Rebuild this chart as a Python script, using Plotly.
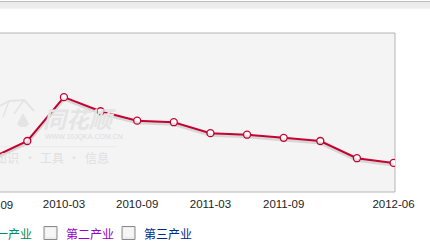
import plotly.graph_objects as go

quarters = ["2009-09", "2009-12", "2010-03", "2010-06", "2010-09", "2010-12",
            "2011-03", "2011-06", "2011-09", "2011-12", "2012-03", "2012-06"]
values = [8.1, 9.2, 12.0, 11.1, 10.5, 10.4, 9.7, 9.6, 9.4, 9.2, 8.1, 7.8]
tick_labels = ["2010-03", "2010-09", "2011-03", "2011-09", "2012-06"]
hidden_left_label = "2009-09"
legend_names = ["第一产业", "第二产业", "第三产业"]
legend_colors = ["#008a5e", "#9900cc", "#002a8a"]

YR = [5.94, 16.1]
shadow_shift = 0.13

W, H = 430, 245
ml, mr, mt, mb = 0, 35, 33, 53
PW, PH = W - ml - mr, H - mt - mb


def px(x):
    return (x - ml) / PW


def py(y):
    return (H - mb - y) / PH


def path(points, close=False):
    s = "M " + " L ".join(f"{px(x):.5f} {py(y):.5f}" for x, y in points)
    return s + (" Z" if close else "")


fig = go.Figure()
# shadow
fig.add_trace(go.Scatter(x=quarters, y=values, mode="lines", yaxis="y2",
                         line=dict(color="rgba(0,0,0,0.12)", width=3),
                         hoverinfo="skip", showlegend=False))
fig.add_trace(go.Scatter(x=quarters, y=values, mode="lines+markers",
                         line=dict(color="#cc0033", width=2),
                         marker=dict(symbol="circle", size=7, color="white",
                                     line=dict(color="#cc0033", width=1.3)),
                         showlegend=False))

wm = "#e4e4e4"
shapes = [
    # top grey bar
    dict(type="rect", xref="paper", yref="paper", x0=-0.1, x1=1.2,
         y0=py(8.7), y1=py(2), fillcolor="#ececec", line=dict(width=0), layer="below"),
    dict(type="line", xref="paper", yref="paper", x0=-0.1, x1=1.2,
         y0=py(1.5), y1=py(1.5), line=dict(color="#bcbcbc", width=1.2)),
    # plot frame
    dict(type="rect", xref="paper", yref="paper", x0=-0.1, x1=1, y0=0, y1=1,
         fillcolor="#f4f4f4", line=dict(color="#b4b4b4", width=1), layer="below"),
    # watermark divider
    dict(type="line", xref="paper", yref="paper", x0=0, x1=px(116),
         y0=py(146.7), y1=py(146.7), line=dict(color="#ebebeb", width=1), layer="below"),
    # watermark logo (fan + spade)
    dict(type="path", xref="paper", yref="paper",
         path=path([(0, 106), (9, 101), (24, 100), (34, 111)]),
         line=dict(color=wm, width=2), layer="below"),
    dict(type="path", xref="paper", yref="paper",
         path=path([(9, 101), (3, 117)]), line=dict(color=wm, width=1.5), layer="below"),
    dict(type="path", xref="paper", yref="paper",
         path=path([(24, 100), (14, 114)]), line=dict(color=wm, width=1.5), layer="below"),
    dict(type="path", xref="paper", yref="paper",
         path=path([(23, 113), (17, 124), (20, 127), (26, 127), (29, 124)], close=True),
         fillcolor=wm, line=dict(width=0), layer="below"),
]
# checkboxes
for x0 in (44, 122):
    shapes.append(dict(type="rect", xref="paper", yref="paper",
                       x0=px(x0), x1=px(x0 + 13), y0=py(239.5), y1=py(226.5),
                       fillcolor="#ececec", line=dict(color="#8a8a8a", width=1)))
    shapes.append(dict(type="rect", xref="paper", yref="paper",
                       x0=px(x0 + 1.5), x1=px(x0 + 11.5), y0=py(237), y1=py(228),
                       fillcolor="#f6f6f6", line=dict(width=0)))

cjk = "Noto Sans CJK SC"
annotations = [
    dict(text=hidden_left_label, xref="paper", yref="paper", x=px(-8.5), y=py(205),
         showarrow=False, xanchor="center", yanchor="middle",
         font=dict(family="Liberation Sans, Arial", size=11.5, color="#222")),
    # watermark
    dict(text="<b><i>同花顺</i></b>", xref="paper", yref="paper", x=px(41), y=py(117.5),
         showarrow=False, xanchor="left", yanchor="middle",
         font=dict(family=cjk, size=23, color=wm)),
    dict(text="WWW.10JQKA.COM.CN", xref="paper", yref="paper", x=px(43), y=py(137),
         showarrow=False, xanchor="left", yanchor="middle",
         font=dict(family="Liberation Sans, Arial", size=7, color="#dcdcdc")),
]
for txt, cx in (("知识", 7), ("·", 29.5), ("工具", 51.5), ("·", 74), ("信息", 96.5)):
    annotations.append(dict(text=txt, xref="paper", yref="paper", x=px(cx), y=py(157.3),
                            showarrow=False, xanchor="center", yanchor="middle",
                            font=dict(family=cjk, size=12, color="#e0e0e0")))
annotations += [
    # legend labels
    dict(text=legend_names[0], xref="paper", yref="paper", x=px(34), y=py(233),
         showarrow=False, xanchor="right", yanchor="middle",
         font=dict(family=cjk, size=12, color=legend_colors[0])),
    dict(text=legend_names[1], xref="paper", yref="paper", x=px(64), y=py(233),
         showarrow=False, xanchor="left", yanchor="middle",
         font=dict(family=cjk, size=12, color=legend_colors[1])),
    dict(text=legend_names[2], xref="paper", yref="paper", x=px(142), y=py(233),
         showarrow=False, xanchor="left", yanchor="middle",
         font=dict(family=cjk, size=12, color=legend_colors[2])),
]

fig.update_layout(
    width=W, height=H,
    margin=dict(l=ml, r=mr, t=mt, b=mb, pad=0),
    paper_bgcolor="white", plot_bgcolor="rgba(0,0,0,0)",
    showlegend=False,
    xaxis=dict(type="category", categoryorder="array", categoryarray=quarters,
               range=[0.254, 11.04], tickvals=tick_labels, ticktext=tick_labels,
               showgrid=False, zeroline=False, showline=False,
               ticks="outside", ticklen=1, tickcolor="rgba(0,0,0,0)",
               tickfont=dict(family="Liberation Sans, Arial", size=11.5, color="#222")),
    yaxis=dict(range=YR, showgrid=False, zeroline=False, showticklabels=False,
               showline=False),
    yaxis2=dict(range=[YR[0] + shadow_shift, YR[1] + shadow_shift], overlaying="y",
                visible=False),
    shapes=shapes, annotations=annotations,
)

fig.write_html("out.html")
